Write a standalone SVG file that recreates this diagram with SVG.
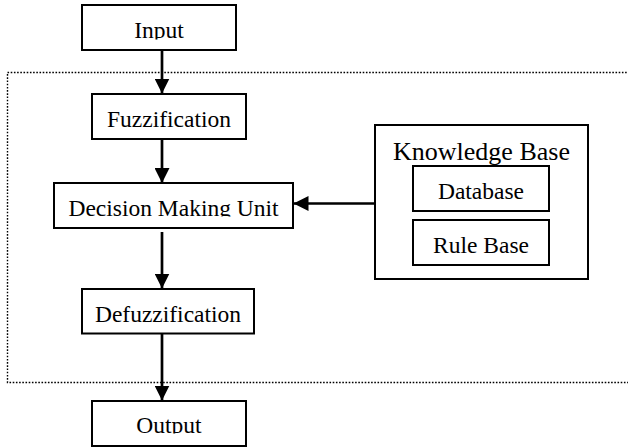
<svg xmlns="http://www.w3.org/2000/svg" width="628" height="448" viewBox="0 0 628 448">
<style>
.box{fill:#fff;stroke:#000;stroke-width:2}
.t{font-size:23.5px;fill:#000;text-anchor:middle}
.kb{font-size:26px}
.ln{stroke:#000;stroke-width:2.7;fill:none}
.dot{fill:none;stroke:#000;stroke-width:1.4;stroke-dasharray:1.6 1.6}
</style>
<defs>
<marker id="ah" markerWidth="15" markerHeight="15" refX="15" refY="7.5" orient="auto" markerUnits="userSpaceOnUse">
<path d="M0,0 L15,7.5 L0,15 Z" fill="#000"/>
</marker>
<clipPath id="cIn"><rect x="82" y="5" width="154" height="34.5"/></clipPath>
<clipPath id="cDmu"><rect x="54" y="183" width="239" height="33.5"/></clipPath>
<clipPath id="cOut"><rect x="92" y="400" width="154" height="33.5"/></clipPath>
</defs>
<rect id="boundary" class="dot" x="7.5" y="72.5" width="626" height="310"/>
<g id="connectors">
<line class="ln" x1="162" y1="50" x2="162" y2="93.5" marker-end="url(#ah)"/>
<line class="ln" x1="162" y1="139" x2="162" y2="183" marker-end="url(#ah)"/>
<line class="ln" x1="162" y1="232" x2="162" y2="288.5" marker-end="url(#ah)"/>
<line class="ln" x1="162" y1="333" x2="162" y2="400.5" marker-end="url(#ah)"/>
<line class="ln" x1="375" y1="203.5" x2="293.5" y2="203.5" marker-end="url(#ah)"/>
</g>
<g font-family="Liberation Serif, Times New Roman, serif">
<g id="input">
<rect class="box" x="82" y="5" width="154" height="45"/>
<text class="t" x="159" y="38.3" clip-path="url(#cIn)">Input</text>
</g>
<g id="fuzzification">
<rect class="box" x="92" y="94" width="154" height="45"/>
<text class="t" x="169" y="127.3">Fuzzification</text>
</g>
<g id="dmu">
<rect class="box" x="54" y="183" width="239" height="45"/>
<text class="t" x="173.5" y="216" clip-path="url(#cDmu)">Decision Making Unit</text>
</g>
<g id="knowledge-base">
<rect class="box" x="375" y="125" width="213" height="154"/>
<text class="t kb" x="481.5" y="160">Knowledge Base</text>
</g>
<g id="database">
<rect class="box" x="413" y="166" width="136" height="45"/>
<text class="t" x="481" y="199">Database</text>
</g>
<g id="rule-base">
<rect class="box" x="413" y="220" width="136" height="45"/>
<text class="t" x="481" y="252.7">Rule Base</text>
</g>
<g id="defuzzification">
<rect class="box" x="82" y="289" width="172" height="44.5"/>
<text class="t" x="168" y="321.7">Defuzzification</text>
</g>
<g id="output">
<rect class="box" x="92" y="401" width="154" height="45"/>
<text class="t" x="169" y="433.3" clip-path="url(#cOut)">Output</text>
</g>
</g>
</svg>
